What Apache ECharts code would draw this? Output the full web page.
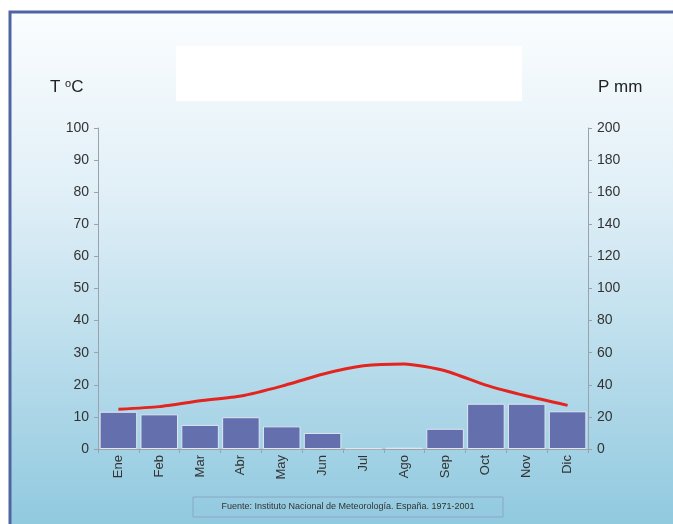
<!DOCTYPE html>
<html><head><meta charset="utf-8">
<script src="https://cdn.jsdelivr.net/npm/echarts@6/dist/echarts.min.js"></script>
<style>html,body{margin:0;padding:0;background:#fff}#c{width:673px;height:524px}</style>
</head><body><div id="c"></div>
<script>
const months = ['Ene','Feb','Mar','Abr','May','Jun','Jul','Ago','Sep','Oct','Nov','Dic'];
const precipitation = [23.2, 21.6, 15, 19.8, 14.1, 10, 0.5, 0.8, 12.6, 28.2, 28.2, 23.5];
const temperature = [12.4, 13.2, 15, 16.5, 19.6, 23.3, 25.9, 26.5, 24.4, 19.9, 16.5, 13.6];
const tempTicks = [0,10,20,30,40,50,60,70,80,90,100];
const precTicks = [0,20,40,60,80,100,120,140,160,180,200];
const sourceText = 'Fuente: Instituto Nacional de Meteorología. España. 1971-2001';

const chart = echarts.init(document.getElementById('c'));
const font = '"Liberation Sans", Arial, sans-serif';
const axisLineStyle = {color:'#9aa2ae', width:1};
chart.setOption({
  animation:false,
  textStyle:{fontFamily:font},
  graphic:[
    {type:'rect', z:-10, shape:{x:10, y:12, width:680, height:530},
     style:{fill:new echarts.graphic.LinearGradient(0,0,0,1,[{offset:0,color:'#fbfdfe'},{offset:0.35,color:'#e0eff7'},{offset:1,color:'#8cc7de'}]),
            stroke:'#5064a2', lineWidth:3}},
    {type:'rect', z:-5, shape:{x:176, y:46, width:346, height:55}, style:{fill:'#ffffff'}},
    {type:'text', left:50, top:78, style:{text:'T {s|o}C', fontSize:17, fill:'#222', fontFamily:font,
       rich:{s:{fontSize:11, verticalAlign:'top', padding:[0,0,8,0], fill:'#222'}}}},
    {type:'text', left:598, top:79, style:{text:'P mm', fontSize:17, fill:'#222', fontFamily:font}},
    {type:'rect', shape:{x:193, y:497, width:310, height:20}, style:{fill:'none', stroke:'#8aa6c6', lineWidth:1}},
    {type:'text', x:348, y:507, style:{text:sourceText, fontSize:9, fill:'#333', fontFamily:font, align:'center', verticalAlign:'middle'}}
  ],
  grid:{left:98, right:85, top:128, bottom:75},
  xAxis:{type:'category', data:months,
    axisLine:{lineStyle:axisLineStyle},
    axisTick:{show:true, length:4, lineStyle:axisLineStyle},
    axisLabel:{rotate:90, fontSize:13, color:'#333', margin:6}},
  yAxis:[
    {type:'value', min:0, max:100, interval:10, position:'left',
     axisLine:{show:true, lineStyle:axisLineStyle}, axisTick:{show:true, length:4, lineStyle:axisLineStyle},
     splitLine:{show:false}, axisLabel:{fontSize:14, color:'#333', margin:9}},
    {type:'value', min:0, max:200, interval:20, position:'right',
     axisLine:{show:true, lineStyle:axisLineStyle}, axisTick:{show:true, length:4, lineStyle:axisLineStyle},
     splitLine:{show:false}, axisLabel:{fontSize:14, color:'#333', margin:9}}
  ],
  series:[
    {type:'bar', yAxisIndex:1, data:precipitation, barCategoryGap:'8%',
     itemStyle:{color:'#6470ae', borderColor:'#dfe6f2', borderWidth:1}},
    {type:'line', yAxisIndex:0, data:temperature, smooth:0.2, showSymbol:false, symbol:'none',
     lineStyle:{color:'#e3241f', width:3}, z:5}
  ]
});
</script></body></html>
